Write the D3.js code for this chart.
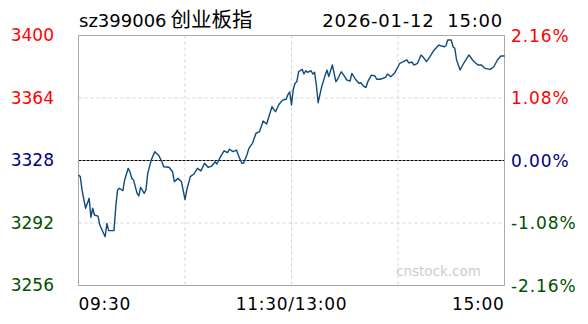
<!DOCTYPE html>
<html>
<head>
<meta charset="utf-8">
<script src="https://cdn.jsdelivr.net/npm/d3@7"></script>
<style>
  body { margin: 0; background: #fff; }
  svg { display: block; font-family: "DejaVu Sans", Verdana, sans-serif; }
</style>
</head>
<body>
<div id="chart"></div>
<script>
// intraday data, minute index from 09:30 (0) to 15:00 (240), lunch break folded at 120
let points = [
  [0, 3319.6], [1, 3318.7], [2, 3311.0], [4, 3300.5], [6, 3306.2], [7, 3295.3], [8, 3300.5], [9, 3296.6],
  [11, 3296.0], [12, 3290.8], [15, 3284.1], [16, 3291.8], [17, 3287.6], [20, 3287.6], [21, 3301.4], [22, 3311.0],
  [23, 3312.0], [25, 3310.6], [26, 3316.8], [28, 3323.5], [29, 3321.5], [30, 3317.7], [31, 3316.8], [33, 3309.1],
  [34, 3307.6], [35, 3312.6], [37, 3309.1], [38, 3311.0], [39, 3320.6], [41, 3328.3], [43, 3333.1], [45, 3331.2],
  [47, 3327.3], [48, 3324.4], [51, 3324.1], [53, 3321.5], [54, 3315.8], [56, 3317.7], [58, 3315.8], [60, 3305.5],
  [61, 3311.0], [63, 3318.7], [65, 3320.2], [67, 3323.5], [69, 3322.0], [71, 3326.4], [73, 3324.1], [75, 3324.8],
  [77, 3327.3], [78, 3326.0], [80, 3330.2], [82, 3333.6], [84, 3332.5], [85, 3334.5], [87, 3333.1], [89, 3334.0],
  [90, 3331.2], [92, 3326.4], [93, 3326.4], [95, 3331.6], [96, 3335.0], [98, 3337.9], [100, 3343.7], [102, 3344.6],
  [104, 3350.8], [106, 3349.0], [109, 3359.0], [111, 3356.1], [113, 3360.4], [115, 3362.8], [117, 3363.3], [118, 3366.0],
  [119, 3367.5], [120, 3360.0], [121, 3369.0], [122, 3372.5], [123, 3373.4], [124, 3379.1], [126, 3380.5], [127, 3377.8],
  [128, 3379.7], [129, 3378.8], [131, 3379.7], [132, 3377.8], [133, 3378.8], [134, 3371.5], [135, 3361.3], [137, 3370.5],
  [139, 3377.2], [140, 3380.1], [141, 3376.3], [143, 3383.0], [145, 3373.4], [146, 3374.8], [148, 3379.1], [150, 3376.3],
  [151, 3374.4], [153, 3373.8], [154, 3378.2], [156, 3374.8], [158, 3372.5], [159, 3372.8], [161, 3370.5], [162, 3370.2],
  [163, 3373.4], [165, 3377.2], [167, 3376.7], [168, 3374.8], [170, 3374.8], [173, 3375.9], [174, 3377.8], [176, 3376.3],
  [178, 3378.2], [180, 3382.0], [181, 3384.0], [183, 3384.9], [185, 3385.9], [186, 3384.3], [188, 3384.6], [189, 3383.0],
  [191, 3384.0], [193, 3388.8], [194, 3387.8], [196, 3384.9], [198, 3387.8], [200, 3391.2], [203, 3394.5], [206, 3393.5],
  [207, 3394.1], [208, 3397.4], [210, 3397.4], [211, 3393.5], [212, 3392.6], [213, 3385.9], [215, 3380.1], [217, 3384.0],
  [220, 3388.8], [222, 3385.9], [223, 3384.9], [225, 3383.0], [227, 3383.0], [229, 3381.1], [232, 3380.5], [234, 3382.0],
  [236, 3385.9], [238, 3388.2], [240, 3388.2]
];

let priceTicks = [3400, 3364, 3328, 3292, 3256];
let pctLabels = ['2.16%', '1.08%', '0.00%', '-1.08%', '-2.16%'];
let tickColors = ['#ff0000', '#ff0000', '#000080', '#005000', '#005000'];
let timeTicks = [0, 120, 240];
let timeLabels = ['09:30', '11:30/13:00', '15:00'];
let gridTimes = [60, 120, 180];
let prevClose = 3328;

let code = 'sz399006';
let name = '创业板指';
let stamp = '2026-01-12  15:00';

let width = 588, height = 324;
let plotLeft = 78.5, plotRight = 504.5, plotTop = 35.5, plotBottom = 285.5;

let svg = d3.select('#chart')
  .append('svg')
  .attr('width', width)
  .attr('height', height);

let x = d3.scaleLinear().domain([0, 240]).range([plotLeft, plotRight]);
let y = d3.scaleLinear().domain([3256, 3400]).range([plotBottom, plotTop]);

// grid
svg.append('g')
  .selectAll('line')
  .data(priceTicks.filter(d => d !== 3400 && d !== 3256 && d !== prevClose))
  .enter().append('line')
  .attr('x1', plotLeft).attr('x2', plotRight)
  .attr('y1', d => y(d)).attr('y2', d => y(d))
  .attr('stroke', '#d4d4d4')
  .attr('stroke-dasharray', '3,3');

svg.append('g')
  .selectAll('line')
  .data(gridTimes)
  .enter().append('line')
  .attr('x1', d => x(d)).attr('x2', d => x(d))
  .attr('y1', plotTop).attr('y2', plotBottom)
  .attr('stroke', '#d4d4d4')
  .attr('stroke-dasharray', '3,3');

svg.append('line')
  .attr('x1', plotLeft).attr('x2', plotRight)
  .attr('y1', y(prevClose)).attr('y2', y(prevClose))
  .attr('stroke', '#000')
  .attr('stroke-dasharray', '3,1');

// frame
svg.append('rect')
  .attr('x', plotLeft).attr('y', plotTop)
  .attr('width', plotRight - plotLeft).attr('height', plotBottom - plotTop)
  .attr('fill', 'none')
  .attr('stroke', '#aaaaaa');

// watermark
svg.append('text')
  .attr('x', 396).attr('y', 276)
  .style('font-size', '13.5px')
  .attr('fill', '#cccccc')
  .text('cnstock.com');

// price line
let line = d3.line()
  .x(d => x(d[0]))
  .y(d => y(d[1]));

svg.append('path')
  .datum(points)
  .attr('d', line)
  .attr('fill', 'none')
  .attr('stroke', '#0f4a7e')
  .attr('stroke-width', 1.4)
  .attr('stroke-linejoin', 'round');

// left price labels
svg.append('g')
  .selectAll('text')
  .data(priceTicks)
  .enter().append('text')
  .attr('x', 54)
  .attr('y', d => y(d) + 5.5)
  .style('text-anchor', 'end')
  .style('font-size', '17px')
  .attr('fill', (d, i) => tickColors[i])
  .text(d => d);

// right percent labels
svg.append('g')
  .selectAll('text')
  .data(pctLabels)
  .enter().append('text')
  .attr('x', 511)
  .attr('y', (d, i) => y(priceTicks[i]) + 6)
  .style('text-anchor', 'start')
  .style('font-size', '17px')
  .style('letter-spacing', '0.9px')
  .attr('fill', (d, i) => tickColors[i])
  .text(d => d);

// time labels
svg.append('g')
  .selectAll('text')
  .data(timeTicks)
  .enter().append('text')
  .attr('x', d => x(d))
  .attr('y', 310)
  .style('text-anchor', (d, i) => i === 0 ? 'start' : (i === timeTicks.length - 1 ? 'end' : 'middle'))
  .style('font-size', '17px')
  .style('letter-spacing', '0.7px')
  .attr('fill', '#000')
  .text((d, i) => timeLabels[i]);

// header
let head = svg.append('text')
  .attr('x', 79).attr('y', 26.5)
  .style('font-size', '18px')
  .attr('fill', '#000');

head.append('tspan').text(code);
head.append('tspan')
  .attr('dx', 4)
  .style('font-family', '"Noto Sans CJK SC", sans-serif')
  .style('font-size', '20.5px')
  .text(name);

svg.append('text')
  .attr('x', 503).attr('y', 26.5)
  .style('text-anchor', 'end')
  .style('font-size', '18px')
  .style('letter-spacing', '0.75px')
  .style('white-space', 'pre')
  .attr('fill', '#000')
  .text(stamp);
</script>
</body>
</html>
